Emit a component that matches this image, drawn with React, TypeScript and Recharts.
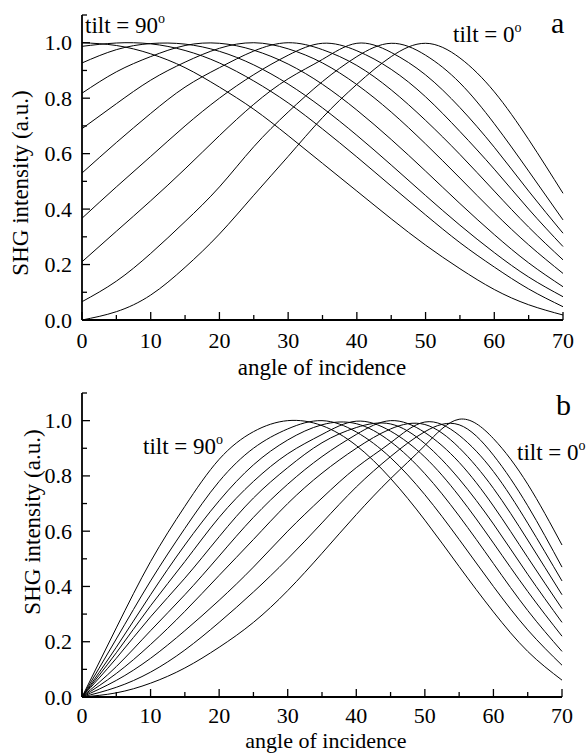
import React from 'react';
import { LineChart, Line, XAxis, YAxis } from 'recharts';

const ANGLES = [0, 5, 10, 15, 20, 25, 30, 35, 40, 45, 50, 55, 60, 65, 70];
const TILTS = [90, 80, 70, 60, 50, 40, 30, 20, 10, 0];
const X_TICKS = [0, 5, 10, 15, 20, 25, 30, 35, 40, 45, 50, 55, 60, 65, 70];
const Y_TICKS = [0, 0.1, 0.2, 0.3, 0.4, 0.5, 0.6, 0.7, 0.8, 0.9, 1.0, 1.1];

// panel a
const TOP_90 = [1.0, 0.99, 0.96, 0.91, 0.84, 0.76, 0.665, 0.565, 0.465, 0.365, 0.27, 0.185, 0.11, 0.055, 0.018];
const TOP_80 = [0.987, 0.999, 0.996, 0.972, 0.927, 0.862, 0.783, 0.689, 0.588, 0.483, 0.379, 0.279, 0.191, 0.112, 0.048];
const TOP_70 = [0.927, 0.975, 0.997, 0.995, 0.969, 0.92, 0.851, 0.765, 0.666, 0.559, 0.449, 0.342, 0.243, 0.155, 0.084];
const TOP_60 = [0.818, 0.895, 0.95, 0.99, 0.998, 0.973, 0.923, 0.85, 0.757, 0.651, 0.537, 0.42, 0.308, 0.206, 0.12];
const TOP_50 = [0.69, 0.78, 0.865, 0.93, 0.98, 1.0, 0.978, 0.927, 0.849, 0.75, 0.635, 0.512, 0.387, 0.271, 0.168];
const TOP_40 = [0.53, 0.64, 0.745, 0.84, 0.91, 0.97, 1.0, 0.975, 0.918, 0.83, 0.72, 0.597, 0.465, 0.335, 0.217];
const TOP_30 = [0.367, 0.48, 0.59, 0.7, 0.8, 0.885, 0.955, 0.998, 0.971, 0.904, 0.805, 0.68, 0.544, 0.4, 0.265];
const TOP_20 = [0.21, 0.32, 0.43, 0.545, 0.665, 0.778, 0.87, 0.94, 0.998, 0.965, 0.884, 0.766, 0.623, 0.465, 0.313];
const TOP_10 = [0.066, 0.14, 0.24, 0.355, 0.48, 0.625, 0.75, 0.86, 0.95, 0.998, 0.955, 0.855, 0.708, 0.537, 0.361];
const TOP_0 = [0.0, 0.03, 0.09, 0.19, 0.31, 0.45, 0.59, 0.73, 0.85, 0.95, 0.998, 0.945, 0.823, 0.651, 0.457];

// panel b
const BOT_90 = [0.0, 0.25, 0.49, 0.69, 0.86, 0.96, 1.0, 0.982, 0.91, 0.791, 0.64, 0.472, 0.308, 0.165, 0.061];
const BOT_80 = [0.0, 0.21, 0.42, 0.61, 0.78, 0.9, 0.97, 1.0, 0.959, 0.866, 0.732, 0.57, 0.4, 0.243, 0.115];
const BOT_70 = [0.0, 0.18, 0.37, 0.55, 0.71, 0.84, 0.93, 0.985, 0.989, 0.924, 0.808, 0.655, 0.483, 0.313, 0.165];
const BOT_60 = [0.0, 0.16, 0.33, 0.49, 0.65, 0.78, 0.88, 0.95, 0.998, 0.962, 0.868, 0.727, 0.557, 0.382, 0.22];
const BOT_50 = [0.0, 0.14, 0.29, 0.43, 0.58, 0.72, 0.83, 0.92, 0.975, 0.988, 0.917, 0.789, 0.626, 0.444, 0.27];
const BOT_40 = [0.0, 0.11, 0.24, 0.37, 0.51, 0.65, 0.77, 0.87, 0.95, 1.0, 0.957, 0.849, 0.691, 0.505, 0.32];
const BOT_30 = [0.0, 0.085, 0.19, 0.31, 0.44, 0.57, 0.7, 0.81, 0.9, 0.97, 0.986, 0.902, 0.755, 0.568, 0.37];
const BOT_20 = [0.0, 0.06, 0.14, 0.24, 0.35, 0.47, 0.6, 0.72, 0.83, 0.92, 0.995, 0.947, 0.816, 0.629, 0.42];
const BOT_10 = [0.0, 0.035, 0.09, 0.17, 0.27, 0.38, 0.5, 0.63, 0.76, 0.87, 0.96, 0.985, 0.875, 0.692, 0.47];
const BOT_0 = [0.0, 0.015, 0.05, 0.105, 0.18, 0.27, 0.385, 0.52, 0.66, 0.79, 0.91, 1.005, 0.935, 0.77, 0.55];

const TOP_SERIES = [TOP_90, TOP_80, TOP_70, TOP_60, TOP_50, TOP_40, TOP_30, TOP_20, TOP_10, TOP_0];
const BOT_SERIES = [BOT_90, BOT_80, BOT_70, BOT_60, BOT_50, BOT_40, BOT_30, BOT_20, BOT_10, BOT_0];

const buildRows = (series: number[][]) =>
  ANGLES.map((a, i) => {
    const row: Record<string, number> = { angle: a };
    TILTS.forEach((t, j) => {
      row['t' + t] = series[j][i];
    });
    return row;
  });

const TOP_DATA = buildRows(TOP_SERIES);
const BOT_DATA = buildRows(BOT_SERIES);

const FONT = "Liberation Serif, Tinos, Times New Roman, DejaVu Serif, serif";
const TXT = { fontFamily: FONT, fill: '#000' };

const makeXTick = (labelDy: number) => (props: any) => {
  const { x, y, payload } = props;
  const v = payload.value;
  const major = v % 10 === 0;
  return (
    <g>
      <line x1={x} x2={x} y1={y} y2={y - (major ? 8 : 5)} stroke="#000" strokeWidth={1.3} />
      {major && (
        <text x={x} y={y + labelDy} textAnchor="middle" fontSize={22} style={TXT}>
          {String(v)}
        </text>
      )}
    </g>
  );
};

const YTick = (props: any) => {
  const { x, y, payload } = props;
  const v = payload.value;
  const idx = Math.round(v * 10);
  const major = idx % 2 === 0;
  return (
    <g>
      <line x1={x} x2={x + (major ? 8 : 5)} y1={y} y2={y} stroke="#000" strokeWidth={1.3} />
      {major && (
        <text x={x - 10} y={y + 7.5} textAnchor="end" fontSize={22} style={TXT}>
          {v.toFixed(1)}
        </text>
      )}
    </g>
  );
};

const Panel = ({ data, height, top, right, xAxisHeight, labelDy }: any) => (
  <LineChart
    width={588}
    height={height}
    data={data}
    margin={{ top, right, bottom: 0, left: 0 }}
  >
    <XAxis
      dataKey="angle"
      type="number"
      domain={[0, 70]}
      ticks={X_TICKS}
      interval={0}
      height={xAxisHeight}
      tickSize={0}
      tickMargin={0}
      tickLine={false}
      axisLine={{ stroke: '#000', strokeWidth: 1.8 }}
      tick={makeXTick(labelDy)}
    />
    <YAxis
      type="number"
      domain={[0, 1.1]}
      ticks={Y_TICKS}
      interval={0}
      width={82}
      tickSize={0}
      tickMargin={0}
      tickLine={false}
      axisLine={{ stroke: '#000', strokeWidth: 1.8 }}
      tick={YTick}
      allowDataOverflow
    />
    {TILTS.map((t) => (
      <Line
        key={t}
        dataKey={'t' + t}
        type="natural"
        stroke="#000"
        strokeWidth={1}
        dot={false}
        isAnimationActive={false}
      />
    ))}
  </LineChart>
);

export default function App() {
  return (
    <div style={{ position: 'absolute', left: 0, top: 0, width: 588, height: 755, background: '#fff' }}>
      <Panel data={TOP_DATA} height={375} top={15} right={25} xAxisHeight={55} labelDy={28} />
      <Panel data={BOT_DATA} height={380} top={18} right={26} xAxisHeight={58} labelDy={26} />
      <svg
        width={588}
        height={755}
        style={{ position: 'absolute', left: 0, top: 0, pointerEvents: 'none' }}
      >
        {/* panel a texts */}
        <text x={322} y={375} textAnchor="middle" fontSize={23} style={TXT}>angle of incidence</text>
        <text x={28} y={183} textAnchor="middle" fontSize={23} transform="rotate(-90 28 183)" style={TXT}>
          SHG intensity (a.u.)
        </text>
        <text x={85} y={33} fontSize={23} style={TXT}>
          tilt = 90<tspan dy={-10} fontSize={14}>o</tspan>
        </text>
        <text x={453} y={42} fontSize={23} style={TXT}>
          tilt = 0<tspan dy={-10} fontSize={14}>o</tspan>
        </text>
        <text x={551} y={33} fontSize={30} style={TXT}>a</text>

        {/* panel b texts */}
        <text x={326} y={748} textAnchor="middle" fontSize={22} style={TXT}>angle of incidence</text>
        <text x={40} y={522} textAnchor="middle" fontSize={23} transform="rotate(-90 40 522)" style={TXT}>
          SHG intensity (a.u.)
        </text>
        <text x={143} y={454} fontSize={23} style={TXT}>
          tilt = 90<tspan dy={-10} fontSize={14}>o</tspan>
        </text>
        <text x={517} y={460} fontSize={23} style={TXT}>
          tilt = 0<tspan dy={-10} fontSize={14}>o</tspan>
        </text>
        <text x={556} y={415} fontSize={30} style={TXT}>b</text>
      </svg>
    </div>
  );
}
